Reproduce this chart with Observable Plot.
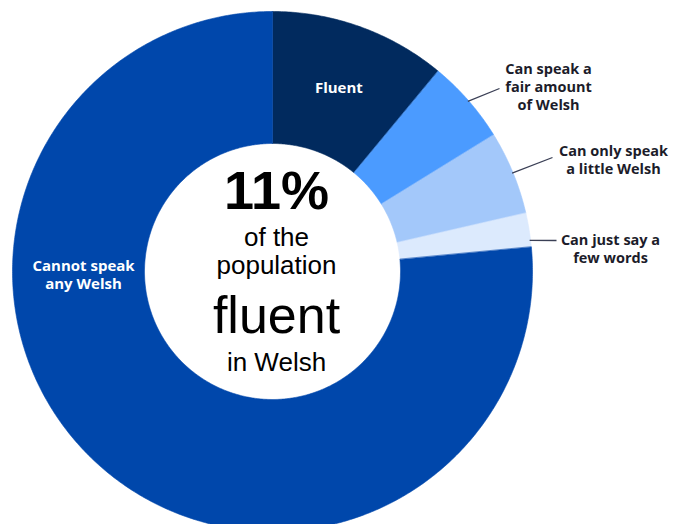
<!DOCTYPE html>
<html>
<head>
<meta charset="utf-8">
<script src="https://cdn.jsdelivr.net/npm/d3@7"></script>
<script src="https://cdn.jsdelivr.net/npm/@observablehq/plot@0.6"></script>
<style>
  html, body { margin: 0; padding: 0; background: #fff; }
  #chart svg { display: block; }
</style>
</head>
<body>
<div id="chart"></div>
<script>
// ---- data ----
const categories = ["Fluent", "Can speak a fair amount of Welsh", "Can only speak a little Welsh", "Can just say a few words", "Cannot speak any Welsh"];
const shares = [11, 5.2, 5.2, 2.1, 76.5];
const colors = ["#012a5e", "#4b9bff", "#a3c8fa", "#dceafd", "#0047ab"];
const labelTexts = ["Fluent", "Can speak a\nfair amount\nof Welsh", "Can only speak\na little Welsh", "Can just say a\nfew words", "Cannot speak\nany Welsh"];
const centerLines = ["11%", "of the", "population", "fluent", "in Welsh"];

// ---- layout (pixels) ----
const W = 673, H = 524;
const cx = 272, cy = 271, R = 260, r0 = 128;
// label placement: inside (on ring) or outside with a leader line end
const labelLayout = [
  {kind: "inside", rad: 196},
  {kind: "outside", tx: 548, ty: 86, lx: 499, ly: 88, at: 0.5},
  {kind: "outside", tx: 613, ty: 159, lx: 552, ly: 157, at: 0.5},
  {kind: "outside", tx: 610, ty: 248, lx: 556, ly: 240, at: 0.8},
  {kind: "fixed", tx: 83, ty: 274}
];
const centerStyle = [
  {y: 191, size: 54, weight: "bold"},
  {y: 237, size: 26, weight: "normal"},
  {y: 265, size: 26, weight: "normal"},
  {y: 316, size: 52, weight: "normal"},
  {y: 362, size: 26, weight: "normal"}
];

const total = d3.sum(shares);
const toRad = a => a / total * 2 * Math.PI;
const pt = (rad, ang) => [cx + rad * Math.sin(ang), cy - rad * Math.cos(ang)];

// build slice polygons from the shares
const polys = [];
const slices = [];
let acc = 0;
shares.forEach((v, i) => {
  const a0 = toRad(acc), a1 = toRad(acc + v);
  acc += v;
  slices.push({i, a0, a1, mid: (a0 + a1) / 2});
  const n = Math.max(4, Math.ceil((a1 - a0) / (Math.PI / 360)));
  for (let k = 0; k <= n; k++) {
    const a = a0 + (a1 - a0) * k / n;
    const [x, y] = pt(R, a);
    polys.push({cat: categories[i], color: colors[i], x, y});
  }
  for (let k = n; k >= 0; k--) {
    const a = a0 + (a1 - a0) * k / n;
    const [x, y] = pt(r0, a);
    polys.push({cat: categories[i], color: colors[i], x, y});
  }
});

// labels
const insideLabels = [];
const outsideLabels = [];
const leaders = [];
slices.forEach(s => {
  const L = labelLayout[s.i];
  if (L.kind === "inside") {
    const [x, y] = pt(L.rad, s.mid);
    insideLabels.push({text: labelTexts[s.i], x, y});
  } else if (L.kind === "fixed") {
    insideLabels.push({text: labelTexts[s.i], x: L.tx, y: L.ty});
  } else {
    outsideLabels.push({text: labelTexts[s.i], x: L.tx, y: L.ty});
    const [x1, y1] = pt(R - 1, s.a0 + (s.a1 - s.a0) * L.at);
    leaders.push({x1, y1, x2: L.lx, y2: L.ly});
  }
});

const centerData = centerLines.map((t, i) => ({text: t, x: cx + 4, ...centerStyle[i]}));

const plot = Plot.plot({
  width: W, height: H,
  margin: 0,
  x: {domain: [0, W], range: [0, W], axis: null},
  y: {domain: [0, H], range: [0, H], axis: null},
  color: {type: "identity"},
  style: {background: "#fff"},
  marks: [
    Plot.line(polys, {x: "x", y: "y", z: "cat", fill: "color", stroke: "color", strokeWidth: 0.6, curve: "linear-closed"}),
    Plot.link(leaders, {x1: "x1", y1: "y1", x2: "x2", y2: "y2", stroke: "#3a3f55", strokeWidth: 1.3}),
    Plot.text(insideLabels, {x: "x", y: "y", text: "text", fill: "#fff", fontSize: 15, fontWeight: "bold", fontFamily: "Open Sans", lineHeight: 1.2, lineAnchor: "middle", textAnchor: "middle"}),
    Plot.text(outsideLabels, {x: "x", y: "y", text: "text", fill: "#1c1c2a", fontSize: 14.5, fontWeight: "bold", fontFamily: "Open Sans", lineHeight: 1.24, lineAnchor: "middle", textAnchor: "middle"}),
    ...centerData.map(d => Plot.text([d], {x: "x", y: "y", text: "text", fill: "#000", fontSize: d.size, fontWeight: d.weight, fontFamily: "Liberation Sans, Arial, sans-serif", lineAnchor: "middle", textAnchor: "middle"}))
  ]
});
document.getElementById("chart").appendChild(plot);
</script>
</body>
</html>
